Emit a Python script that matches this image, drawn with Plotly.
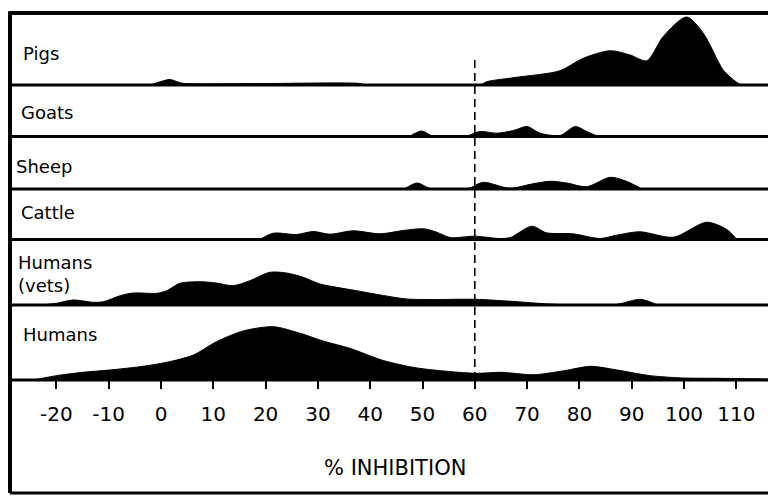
import plotly.graph_objects as go

# ---- data (x: % inhibition, y: relative density height) ----
pigs_x = [-2, 0, 1.7, 3.5, 4.5, 20, 38, 39, 61, 62.3, 68, 76.3, 80.7, 85.9, 89.7, 92.9, 96, 100.5, 103.7, 107.5, 110, 111]
pigs_y = [0, 3.5, 5.5, 2.5, 1.5, 1.5, 1.5, 0, 0, 3.3, 7.7, 14.3, 26.7, 34.3, 30, 24.3, 48.3, 68, 51.7, 15, 3, 0]

goats_x = [47.5, 49.8, 52, 58.1, 61, 64.2, 67.4, 70, 72.5, 76.3, 79.2, 81.4, 83.6]
goats_y = [0, 5.5, 0.5, 0, 5, 3.3, 6, 10, 3.3, 1, 10, 5, 0]

sheep_x = [46.5, 49, 51.5, 58.5, 61.6, 66.7, 70.9, 74.4, 77.6, 81.4, 85.9, 89, 92]
sheep_y = [0, 6, 0.5, 0, 6.7, 0.7, 5, 7.7, 6, 2.3, 11.7, 7.7, 0]

cattle_x = [18.9, 21.5, 25.9, 29.1, 32.3, 36.8, 41.9, 46.3, 50.2, 52.7, 55.3, 60, 64.8, 66.8, 70.9, 73.7, 78.8, 83.9, 87.1, 91.6, 98, 104.3, 108.2, 110.1]
cattle_y = [0, 6.3, 5, 8, 5.3, 8.7, 5.7, 9, 10.7, 7.3, 2, 3.3, 1, 2, 13.3, 6.7, 5.7, 1, 4.3, 7.7, 2.3, 17.3, 10, 0]

vets_x = [-23.1, -20, -16.8, -12.9, -11, -7.8, -5.3, -0.8, 1.1, 3.6, 7.5, 10.6, 13.8, 17, 20.8, 24, 27.2, 30.4, 33.6, 37.4, 42.5, 47, 52.1, 60, 68.1, 73.2, 79.6, 87.2, 91.7, 94.9]
vets_y = [0, 1.7, 5, 2.7, 3.3, 9.3, 12, 11.7, 14.3, 21.7, 23.3, 22, 19.3, 24.3, 32.7, 32, 27.7, 21, 17.7, 14.3, 9.5, 6, 5.5, 5.7, 3.3, 1.3, 0, 0.7, 5.7, 0]

humans_x = [-24.4, -20, -14.9, -9.8, -4, 1.1, 6.2, 10.6, 15.7, 21.5, 26.6, 31, 36.1, 42.5, 49, 60.2, 65, 71.3, 77.1, 82.2, 87.2, 93.6, 100, 106.3, 116]
humans_y = [0, 4.3, 7.7, 10, 13.3, 17.7, 25, 38.3, 49, 53.3, 46.7, 39, 31.7, 19.5, 12, 6.7, 7.7, 5.3, 9.3, 13.7, 10, 4.3, 2, 1.7, 1]

tick_vals = [-20, -10, 0, 10, 20, 30, 40, 50, 60, 70, 80, 90, 100, 110]
tick_text = ["-20", "-10", "0", "10", "20", "30", "40", "50", "60", "70", "80", "90", "100", "110"]
threshold = 60

# ---- layout geometry (pixels) ----
W, H = 768, 496
top_px, bot_px = 13, 380
plot_h = bot_px - top_px
# panel boundaries from top (pixel rows): pigs, goats, sheep, cattle, vets, humans
bounds = [13, 85, 136.5, 189, 239.5, 305, 380]
panels = [
    ("Pigs", pigs_x, pigs_y),
    ("Goats", goats_x, goats_y),
    ("Sheep", sheep_x, sheep_y),
    ("Cattle", cattle_x, cattle_y),
    ("Humans<br>(vets)", vets_x, vets_y),
    ("Humans", humans_x, humans_y),
]
n = len(panels)

def py(p):  # pixel row -> paper y
    return (bot_px - p) / plot_h

fig = go.Figure()
layout_axes = {}
shapes = []
annotations = []
font = "DejaVu Sans"

label_pos = {  # left px, center y px
    "Pigs": (21, 53),
    "Goats": (19, 112),
    "Sheep": (14, 166),
    "Cattle": (19, 212),
    "Humans<br>(vets)": (16, 274),
    "Humans": (21, 334),
}

for i, (name, xs, ys) in enumerate(panels):
    axis_idx = n - i  # humans -> 1 (bottom)
    yname = "y" if axis_idx == 1 else f"y{axis_idx}"
    lname = "yaxis" if axis_idx == 1 else f"yaxis{axis_idx}"
    top, bot = bounds[i], bounds[i + 1]
    fig.add_trace(go.Scatter(
        x=xs, y=ys, yaxis=yname, xaxis="x",
        mode="lines", line=dict(color="black", width=1, shape="spline", smoothing=0.8),
        fill="tozeroy", fillcolor="black", hoverinfo="skip", showlegend=False,
    ))
    layout_axes[lname] = dict(
        domain=[py(bot), py(top)], range=[0, bot - top],
        visible=False, fixedrange=True,
    )
    # separator / baseline
    shapes.append(dict(type="line", xref="paper", yref="paper",
                       x0=0, x1=1, y0=py(bot), y1=py(bot),
                       line=dict(color="black", width=3)))
    lx, ly = label_pos[name]
    annotations.append(dict(
        text=name, xref="paper", yref="paper",
        x=(lx - 10) / (W - 10), y=py(ly), xanchor="left", yanchor="middle",
        align="left", showarrow=False,
        font=dict(family=font, size=18, color="black"),
    ))

# frame
bottom_frame = py(493)
shapes += [
    dict(type="line", xref="paper", yref="paper", x0=0, x1=0, y0=bottom_frame, y1=1.005,
         line=dict(color="black", width=4)),
    dict(type="line", xref="paper", yref="paper", x0=0, x1=1, y0=1, y1=1,
         line=dict(color="black", width=4)),
    dict(type="line", xref="paper", yref="paper", x0=0, x1=1, y0=bottom_frame, y1=bottom_frame,
         line=dict(color="black", width=3)),
    dict(type="line", xref="x", yref="paper", x0=threshold, x1=threshold, y0=0, y1=py(58),
         line=dict(color="black", width=1.6, dash="8px,5px")),
]

annotations.append(dict(
    text="% INHIBITION", xref="paper", yref="paper",
    x=(395 - 10) / (W - 10), y=py(468), xanchor="center", yanchor="middle",
    showarrow=False, font=dict(family=font, size=21, color="black"),
))

v_left = (10 - 161) / 5.23
v_right = (768 - 161) / 5.23

fig.update_layout(
    width=W, height=H,
    margin=dict(l=10, r=0, t=top_px, b=H - bot_px),
    paper_bgcolor="white", plot_bgcolor="white",
    showlegend=False,
    xaxis=dict(
        range=[v_left, v_right], anchor="y",
        tickmode="array", tickvals=tick_vals, ticktext=tick_text,
        ticks="outside", ticklen=8, tickwidth=2, tickcolor="black",
        showgrid=False, zeroline=False, showline=False,
        tickfont=dict(family=font, size=20, color="black"),
        ticklabelstandoff=8, fixedrange=True,
    ),
    shapes=shapes,
    annotations=annotations,
    **layout_axes,
)

fig.write_html("out.html")
